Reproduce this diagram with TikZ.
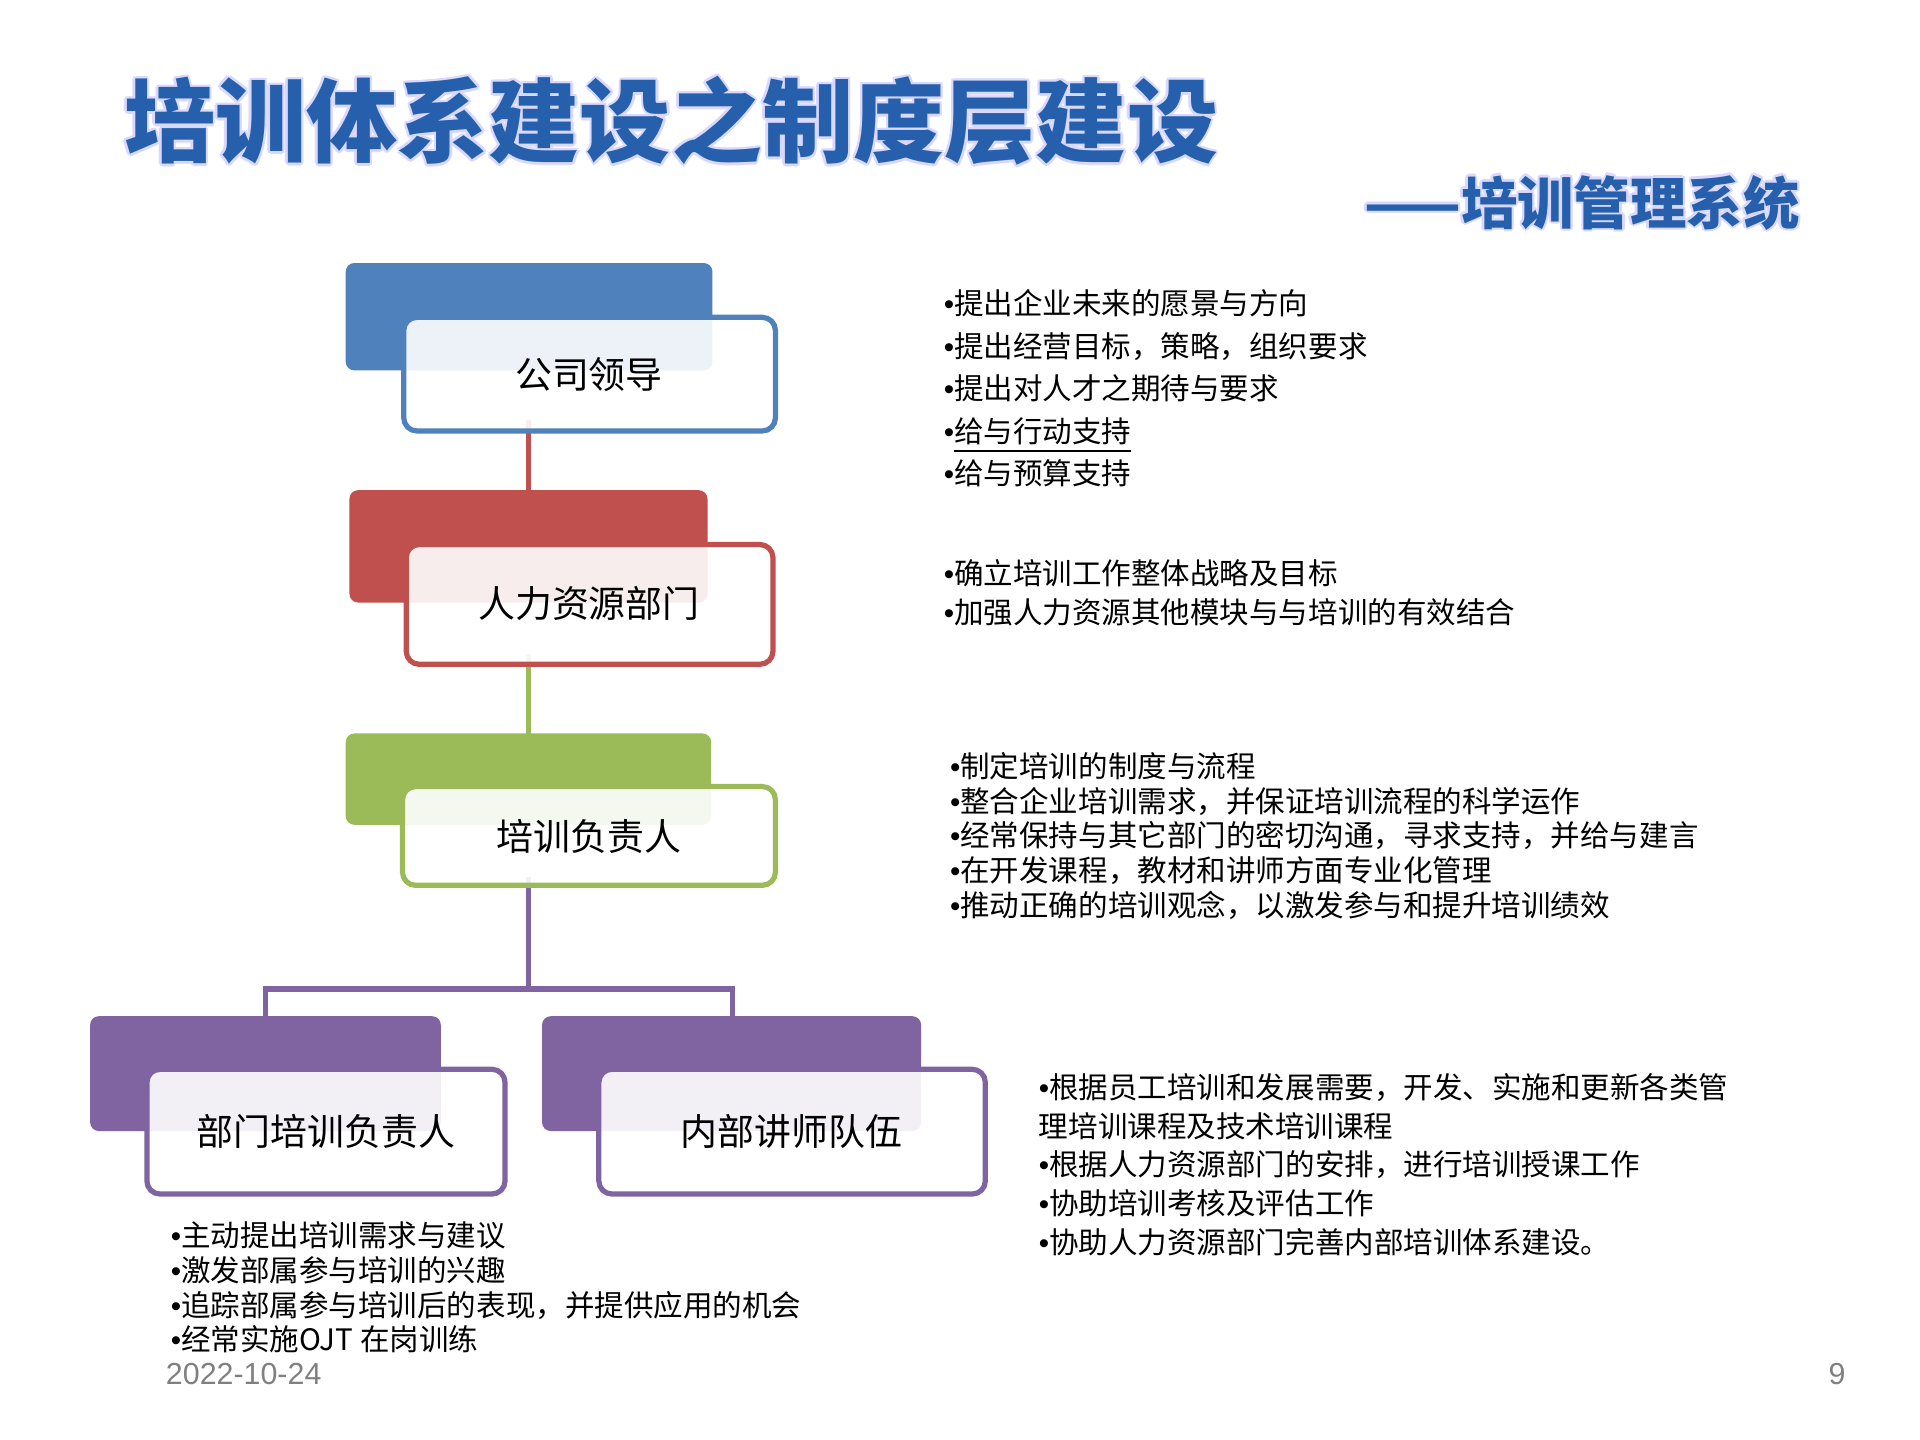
\documentclass[tikz,border=0pt]{standalone}
\usepackage{fontspec}
\setmainfont{Noto Sans CJK SC}
\newfontfamily\latn{Liberation Sans}
\newcommand{\bul}{{\latn •}}
\definecolor{cblue}{RGB}{79,129,189}
\definecolor{cred}{RGB}{192,80,77}
\definecolor{cgreen}{RGB}{155,187,89}
\definecolor{cpurp}{RGB}{128,100,162}
\definecolor{ttl}{RGB}{38,96,172}
\begin{document}
\begin{tikzpicture}[x=0.01cm,y=-0.01cm,
  back/.style={rounded corners=2pt},
  front/.style={draw,line width=1.2pt,rounded corners=3pt,fill=white,fill opacity=0.9},
  lbl/.style={font=\fontsize{8.5}{10}\selectfont},
  lst/.style={anchor=north west,align=left},
  conn/.style={line width=1.2pt}]
\useasboundingbox (0,0) rectangle (1555,1166);
\fill[white] (0,0) rectangle (1555,1166);
% title
\foreach \dx/\dy in {-2/0,2/0,0/-2,0/2,-1.5/-1.5,1.5/1.5,-1.5/1.5,1.5/-1.5}{
  \node[anchor=west,text=blue!15,font=\fontsize{21}{24}\bfseries\selectfont] at (88+\dx,98+\dy) {培训体系建设之制度层建设};
  \node[anchor=east,text=blue!15,font=\fontsize{13}{15}\bfseries\selectfont] at (1470+\dx,164+\dy) {——培训管理系统};}
\node[anchor=west,text=ttl,font=\fontsize{21}{24}\bfseries\selectfont] (title) at (88,98) {培训体系建设之制度层建设};
\node[anchor=east,text=ttl,font=\fontsize{13}{15}\bfseries\selectfont] (sub) at (1470,164) {——培训管理系统};
% connectors
\coordinate (j) at (428,801);
\draw[conn,cred] (428,340) -- (428,420);
\draw[conn,cgreen] (428,530) -- (428,610);
\draw[conn,cpurp] (428,710) -- (j);
\draw[conn,cpurp] (215,823) |- (j) -| (593,823);
% boxes
\fill[back,fill=cblue] (280,213) rectangle (577,300);
\draw[front,draw=cblue] (327,257) rectangle (628,349);
\node[lbl] (la) at (477,303) {公司领导};
\fill[back,fill=cred] (283,397) rectangle (573,488);
\draw[front,draw=cred] (329,441) rectangle (626,538);
\node[lbl] (lb) at (477,489) {人力资源部门};
\fill[back,fill=cgreen] (280,594) rectangle (576,668);
\draw[front,draw=cgreen] (326,637) rectangle (628,717);
\node[lbl] (lc) at (477,677) {培训负责人};
\fill[back,fill=cpurp] (73,823) rectangle (357,916);
\draw[front,draw=cpurp] (119,866) rectangle (409,967);
\node[lbl] (ld) at (264,916) {部门培训负责人};
\fill[back,fill=cpurp] (439,823) rectangle (746,916);
\draw[front,draw=cpurp] (485,866) rectangle (798,967);
\node[lbl] (le) at (641,916) {内部讲师队伍};
% lists
\node[lst,font=\fontsize{6.8}{9.8}\selectfont] (t1) at (752,222) {\bul 提出企业未来的愿景与方向\\\bul 提出经营目标，策略，组织要求\\\bul 提出对人才之期待与要求\\\bul \underline{给与行动支持}\\\bul 给与预算支持};
\node[lst,font=\fontsize{6.8}{9}\selectfont] (t2) at (752,441) {\bul 确立培训工作整体战略及目标\\\bul 加强人力资源其他模块与与培训的有效结合};
\node[lst,font=\fontsize{6.8}{8}\selectfont] (t3) at (757,597) {\bul 制定培训的制度与流程\\\bul 整合企业培训需求，并保证培训流程的科学运作\\\bul 经常保持与其它部门的密切沟通，寻求支持，并给与建言\\\bul 在开发课程，教材和讲师方面专业化管理\\\bul 推动正确的培训观念，以激发参与和提升培训绩效};
\node[lst,font=\fontsize{6.8}{8.9}\selectfont] (t4) at (829,857) {\bul 根据员工培训和发展需要，开发、实施和更新各类管\\理培训课程及技术培训课程\\\bul 根据人力资源部门的安排，进行培训授课工作\\\bul 协助培训考核及评估工作\\\bul 协助人力资源部门完善内部培训体系建设。};
\node[lst,font=\fontsize{6.8}{8}\selectfont] (t5) at (126,977) {\bul 主动提出培训需求与建议\\\bul 激发部属参与培训的兴趣\\\bul 追踪部属参与培训后的表现，并提供应用的机会\\\bul 经常实施OJT 在岗训练};
\node[anchor=west,text=gray,font=\latn\fontsize{7}{8}\selectfont] (date) at (122,1113) {2022-10-24};
\node[anchor=east,text=gray,font=\latn\fontsize{7}{8}\selectfont] (pg) at (1507,1113) {9};
\end{tikzpicture}
\end{document}
